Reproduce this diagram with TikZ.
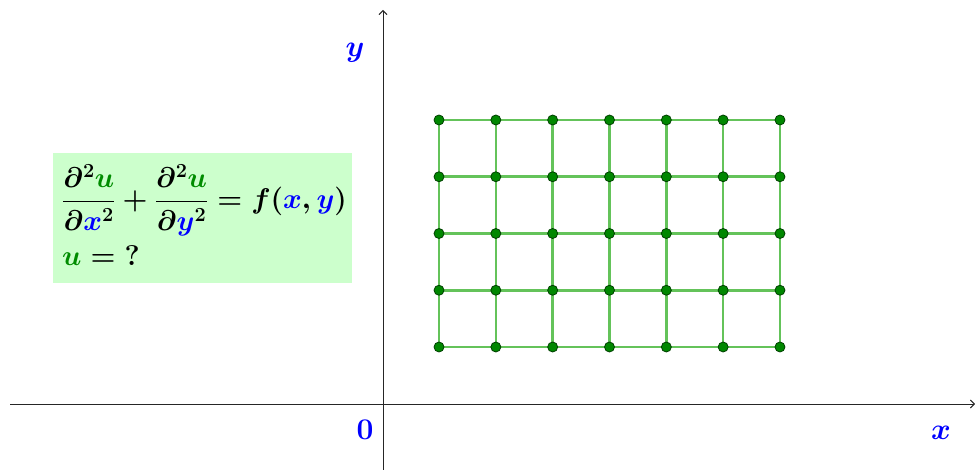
\RequirePackage{fix-cm}
\documentclass[tikz,border=0pt]{standalone}
\usepackage{amsmath}
\usetikzlibrary{arrows.meta}
\definecolor{gridgreen}{RGB}{100,195,90}
\definecolor{dotgreen}{RGB}{0,135,0}
\definecolor{ugreen}{RGB}{0,140,0}
\definecolor{boxgreen}{RGB}{204,255,204}
\tikzset{
  axis/.style={-{Straight Barb[length=4pt,width=8pt]}, line width=0.9pt, black!85},
  gridline/.style={gridgreen, line width=2.6pt},
  gridpt/.style={circle, fill=dotgreen, draw=green!25!black, line width=0.8pt, inner sep=0pt, minimum size=10pt},
  lbl/.style={text=blue, font=\fontsize{30}{34}\selectfont\boldmath}
}
\begin{document}
\begin{tikzpicture}[x=1pt,y=-1pt]
\useasboundingbox (0,0) rectangle (975,470);
% axes
\coordinate (xs) at (10,404);
\coordinate (xe) at (975,404);
\coordinate (ys) at (383,470);
\coordinate (ye) at (383,10);
\draw[axis] (xs) -- (xe);
\draw[axis] (ys) -- (ye);
% labels
\node[lbl] (ylab) at (355,53) {$y$};
\node[lbl] (olab) at (365,430) {$\mathbf{0}$};
\node[lbl] (xlab) at (941,433) {$x$};
% grid
\foreach \i in {0,...,6} {
  \draw[gridline] ({439+\i*56.83},120) -- ({439+\i*56.83},347);
}
\foreach \j in {0,...,4} {
  \draw[gridline] (439,{120+\j*56.75}) -- (780,{120+\j*56.75});
}
\foreach \i in {0,...,6} {
  \foreach \j in {0,...,4} {
    \node[gridpt] (p\i\j) at ({439+\i*56.83},{120+\j*56.75}) {};
  }
}
% equation box
\fill[boxgreen] (53,153) rectangle (352,283);
\node[anchor=north west, inner sep=0pt, font=\fontsize{28.5}{32}\selectfont\boldmath, align=left] (eq) at (62,164)
{$\displaystyle\frac{\partial^2{\color{ugreen}u}}{\partial{\color{blue}x}^2}+\frac{\partial^2{\color{ugreen}u}}{\partial{\color{blue}y}^2}=f({\color{blue}x},{\color{blue}y})$\\[9pt]
$\color{ugreen}u\color{black}=\mathbf{?}$};
\end{tikzpicture}
\end{document}
